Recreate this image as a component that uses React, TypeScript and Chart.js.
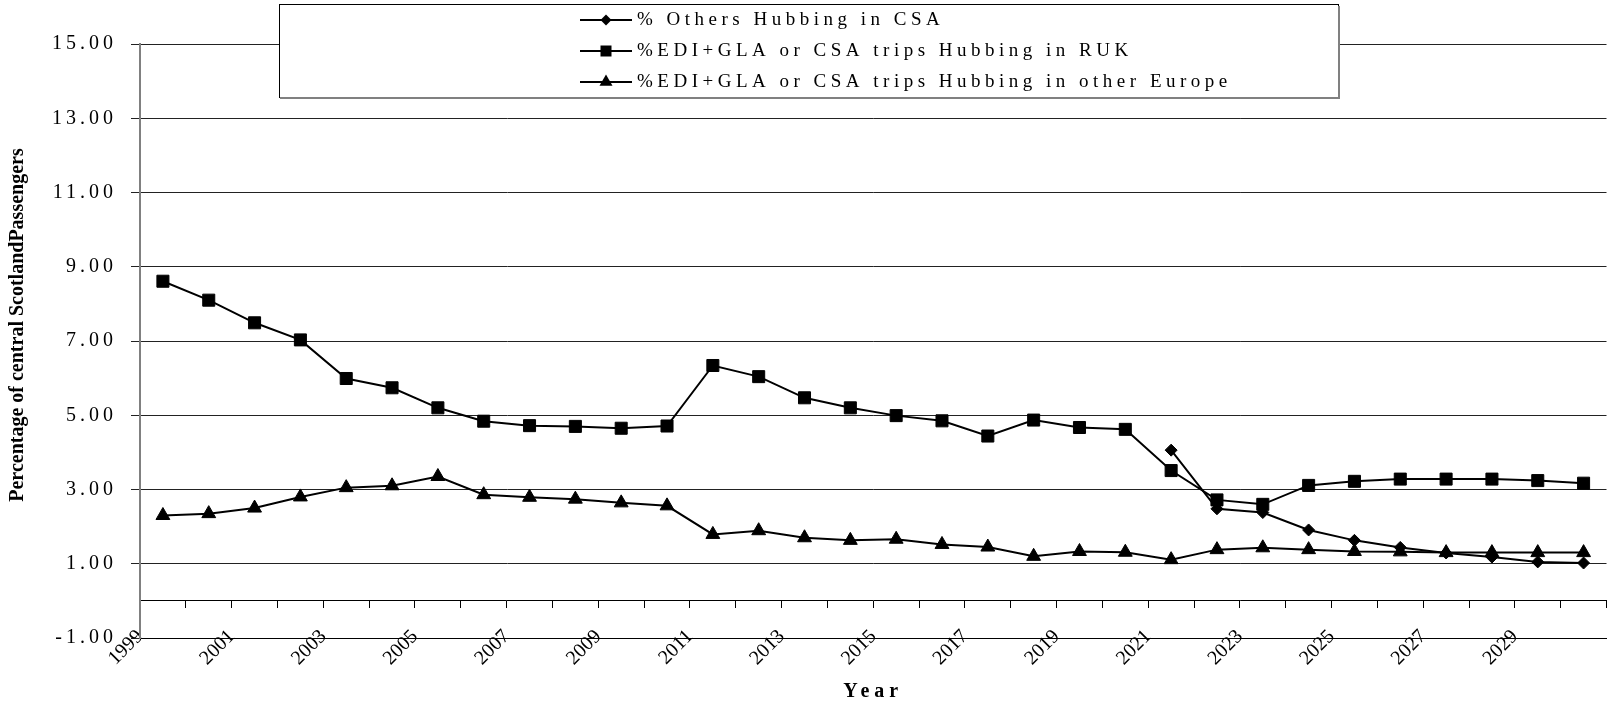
import React, { useEffect, useRef } from 'react';
import { Chart, registerables, LinearScale } from 'chart.js';

Chart.register(...registerables);

const FONT = '"Liberation Serif", "Times New Roman", serif';

const years = [
  1999, 2000, 2001, 2002, 2003, 2004, 2005, 2006, 2007, 2008, 2009, 2010, 2011, 2012, 2013, 2014,
  2015, 2016, 2017, 2018, 2019, 2020, 2021, 2022, 2023, 2024, 2025, 2026, 2027, 2028, 2029, 2030,
];
const tickYears = [1999, 2001, 2003, 2005, 2007, 2009, 2011, 2013, 2015, 2017, 2019, 2021, 2023, 2025, 2027, 2029];

const othersCSA = [
  null, null, null, null, null, null, null, null, null, null, null, null, null, null, null, null,
  null, null, null, null, null, null, 4.06, 2.48, 2.38, 1.91, 1.63, 1.44, 1.29, 1.18, 1.05, 1.02,
];
const hubRUK = [
  8.61, 8.1, 7.49, 7.03, 5.99, 5.74, 5.2, 4.84, 4.72, 4.7, 4.65, 4.71, 6.34, 6.04, 5.47, 5.2,
  4.99, 4.85, 4.44, 4.87, 4.67, 4.62, 3.51, 2.72, 2.6, 3.11, 3.22, 3.28, 3.28, 3.28, 3.24, 3.17,
];
const hubEurope = [
  2.3, 2.35, 2.5, 2.8, 3.05, 3.1, 3.35, 2.86, 2.79, 2.74, 2.64, 2.56, 1.79, 1.89, 1.7, 1.63,
  1.66, 1.52, 1.45, 1.2, 1.33, 1.31, 1.11, 1.38, 1.43, 1.38, 1.33, 1.32, 1.3, 1.3, 1.3, 1.3,
];
const seriesNames = [
  '% Others Hubbing in CSA',
  '%EDI+GLA or CSA trips Hubbing in RUK',
  '%EDI+GLA or CSA trips Hubbing in other Europe',
];
const yMin = -1;
const yMax = 15;
const yStep = 2;

class SpacedLinearScale extends LinearScale {
  static id = 'spacedLinear';
  static defaults = LinearScale.defaults;
  _computeLabelArea() {
    return undefined as any;
  }
  drawLabels(chartArea: any) {
    const ctx: any = this.ctx;
    ctx.save();
    ctx.letterSpacing = this.id === 'y' ? '4px' : '0px';
    super.drawLabels(chartArea);
    ctx.restore();
  }
  drawTitle() {
    const ctx: any = this.ctx;
    ctx.save();
    if (this.id === 'xl') ctx.letterSpacing = '5px';
    if (this.id === 'y') ctx.translate(0, -16);
    super.drawTitle();
    ctx.restore();
  }
}
Chart.register(SpacedLinearScale as any);

const LEGEND_BOX = { left: 279, top: 4, right: 1338, bottom: 97 };
const LEGEND_ROWS = [20, 51, 82];
const LEGEND_LINE = [580, 632];
const LEGEND_TEXT_X = 637;

function drawMarker(ctx: CanvasRenderingContext2D, style: string, x: number, y: number) {
  ctx.beginPath();
  if (style === 'rectRot') {
    const r = 5.5;
    ctx.moveTo(x - r, y);
    ctx.lineTo(x, y - r);
    ctx.lineTo(x + r, y);
    ctx.lineTo(x, y + r);
  } else if (style === 'rect') {
    const s = 5.5;
    ctx.rect(x - s, y - s, 2 * s, 2 * s);
  } else {
    const r = 7.5;
    ctx.moveTo(x, y - r);
    ctx.lineTo(x + r * 0.866, y + r * 0.5);
    ctx.lineTo(x - r * 0.866, y + r * 0.5);
  }
  ctx.closePath();
  ctx.fill();
}

const boxLegend = {
  id: 'boxLegend',
  afterDraw(chart: any) {
    const ctx: any = chart.ctx;
    const { left, top, right, bottom } = LEGEND_BOX;
    ctx.save();
    ctx.fillStyle = '#fff';
    ctx.fillRect(left, top, right - left, bottom - top);
    ctx.strokeStyle = '#000';
    ctx.lineWidth = 1;
    ctx.strokeRect(left + 0.5, top + 0.5, right - left, bottom - top);
    ctx.strokeStyle = '#808080';
    ctx.lineWidth = 2;
    ctx.beginPath();
    ctx.moveTo(left + 1, bottom + 1);
    ctx.lineTo(right + 1, bottom + 1);
    ctx.lineTo(right + 1, top + 2);
    ctx.stroke();
    chart.data.datasets.forEach((ds: any, i: number) => {
      const y = LEGEND_ROWS[i];
      ctx.strokeStyle = '#000';
      ctx.lineWidth = 2;
      ctx.beginPath();
      ctx.moveTo(LEGEND_LINE[0], y);
      ctx.lineTo(LEGEND_LINE[1], y);
      ctx.stroke();
      ctx.fillStyle = '#000';
      drawMarker(ctx, ds.pointStyle, (LEGEND_LINE[0] + LEGEND_LINE[1]) / 2, y);
      ctx.font = `19px ${FONT}`;
      ctx.letterSpacing = '4.5px';
      ctx.textBaseline = 'middle';
      ctx.textAlign = 'left';
      ctx.fillText(ds.label, LEGEND_TEXT_X, y);
    });
    ctx.restore();
  },
};

export default function App() {
  const ref = useRef<HTMLCanvasElement | null>(null);
  useEffect(() => {
    if (!ref.current) return;
    const common = {
      borderColor: '#000',
      backgroundColor: '#000',
      borderWidth: 2,
      pointBackgroundColor: '#000',
      pointBorderColor: '#000',
      pointBorderWidth: 1,
      tension: 0,
      xAxisID: 'x',
      yAxisID: 'y',
    };
    const chart = new Chart(ref.current, {
      type: 'line',
      data: {
        labels: years,
        datasets: [
          { ...common, label: seriesNames[0], data: othersCSA, pointStyle: 'rectRot', pointRadius: 6 },
          { ...common, label: seriesNames[1], data: hubRUK, pointStyle: 'rect', pointRadius: 8.5 },
          { ...common, label: seriesNames[2], data: hubEurope, pointStyle: 'triangle', pointRadius: 8 },
        ],
      } as any,
      options: {
        responsive: false,
        animation: false,
        events: [],
        layout: { padding: { top: 44, right: 2, left: 0, bottom: 0 } },
        plugins: { legend: { display: false }, tooltip: { enabled: false } },
        scales: {
          x: {
            type: 'category',
            position: { y: 0 },
            offset: true,
            ticks: { display: false },
            grid: { display: true, offset: true, drawOnChartArea: false, drawTicks: true, tickLength: 7, color: '#000', lineWidth: 1 },
            border: { display: true, color: '#000', width: 1 },
          },
          xl: {
            type: 'spacedLinear',
            axis: 'x',
            position: 'bottom',
            min: tickYears[0],
            max: years[years.length - 1] + 1,
            afterBuildTicks: (s: any) => {
              s.ticks = tickYears.map((value) => ({ value }));
            },
            afterFit: (s: any) => {
              s.height = 66;
            },
            ticks: {
              autoSkip: false,
              minRotation: 45,
              maxRotation: 45,
              padding: -13,
              color: '#000',
              font: { family: FONT, size: 20 },
              callback: (v: any) => String(v),
            },
            grid: { display: false, drawTicks: false },
            border: { display: true, color: '#000', width: 1 },
            title: {
              display: true,
              text: 'Year',
              color: '#000',
              font: { family: FONT, size: 20, weight: 'bold' },
              padding: { top: 0, bottom: 0 },
            },
          },
          y: {
            type: 'spacedLinear',
            position: 'left',
            min: yMin,
            max: yMax,
            afterFit: (s: any) => {
              s.width = 140;
            },
            ticks: {
              stepSize: yStep,
              padding: 14,
              color: '#000',
              font: { family: FONT, size: 20 },
              callback: (v: any) => Number(v).toFixed(2),
            },
            grid: { color: '#222', lineWidth: 1, tickLength: 9 },
            border: { display: true, color: '#808080', width: 2 },
            title: {
              display: true,
              text: 'Percentage of central ScotlandPassengers',
              color: '#000',
              font: { family: FONT, size: 20, weight: 'bold' },
              padding: { top: 6, bottom: 0 },
            },
          },
        } as any,
      },
      plugins: [boxLegend],
    });
    return () => chart.destroy();
  }, []);
  return (
    <div style={{ position: 'fixed', left: 0, top: 0, width: 1616, height: 704, background: '#fff' }}>
      <canvas ref={ref} width={1616} height={704} style={{ display: 'block' }} />
    </div>
  );
}
